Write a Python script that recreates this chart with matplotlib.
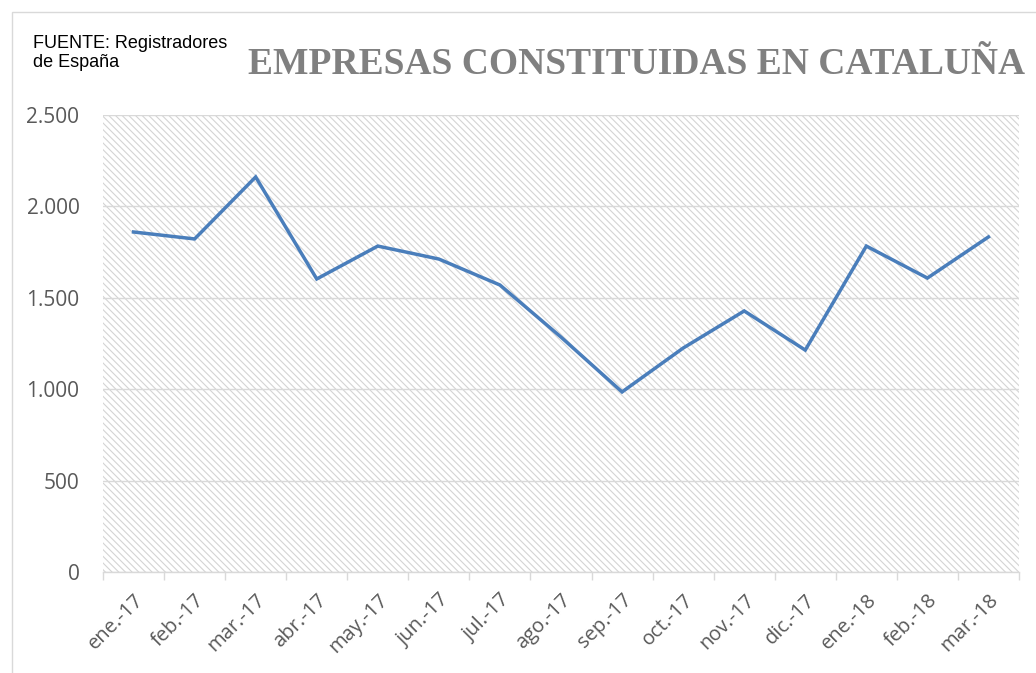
import numpy as np
import matplotlib.pyplot as plt
from matplotlib.patches import Rectangle

# data
months = ["ene.-17", "feb.-17", "mar.-17", "abr.-17", "may.-17", "jun.-17",
          "jul.-17", "ago.-17", "sep.-17", "oct.-17", "nov.-17", "dic.-17",
          "ene.-18", "feb.-18", "mar.-18"]
empresas = [1860, 1822, 2161, 1603, 1783, 1712, 1570, 1285, 985, 1225,
            1428, 1214, 1783, 1608, 1833]
yticks = [0, 500, 1000, 1500, 2000, 2500]
ytick_labels = ["0", "500", "1.000", "1.500", "2.000", "2.500"]

plt.rcParams['hatch.color'] = '#d4d4d4'
plt.rcParams['hatch.linewidth'] = 0.8

fig = plt.figure(figsize=(10.36, 6.73), dpi=100)
ax = fig.add_axes([103 / 1036, 1 - 572 / 673, 916 / 1036, 457 / 673])

# outer chart border
fig.patches.append(Rectangle((12 / 1036, -0.1), 1.2, (673 - 12) / 673 + 0.1,
                             transform=fig.transFigure, fill=False,
                             edgecolor='#d9d9d9', linewidth=1))

# hatched plot area
ax.add_patch(Rectangle((0, 0), 1, 1, transform=ax.transAxes, facecolor='white',
                       edgecolor='#d4d4d4', hatch='\\\\\\\\\\', linewidth=0, zorder=0))

x = np.arange(len(months))
ax.plot(x, empresas, color='#4a7ebb', linewidth=2.5, zorder=3, solid_joinstyle='miter')

ax.set_xlim(-0.5, len(months) - 0.5)
ax.set_ylim(0, 2500)
ax.set_yticks(yticks)
ax.set_yticklabels(ytick_labels)
ax.yaxis.grid(True, color='#d9d9d9', linewidth=1)
ax.set_axisbelow(True)

ax.set_xticks(x)
ax.set_xticklabels(months, rotation=45, ha='right', rotation_mode='anchor')
ax.set_xticks(np.arange(-0.5, len(months)), minor=True)
ax.tick_params(axis='x', which='major', length=0, pad=13, labelsize=14.5, labelcolor='#595959')
ax.tick_params(axis='x', which='minor', length=6, color='#d9d9d9', width=1)
ax.tick_params(axis='y', length=0, pad=17, labelsize=15, labelcolor='#595959')
for lab in ax.get_xticklabels() + ax.get_yticklabels():
    lab.set_family('Open Sans')

for s in ['top', 'right', 'left']:
    ax.spines[s].set_visible(False)
ax.spines['bottom'].set_color('#d9d9d9')
ax.spines['bottom'].set_linewidth(1)

fig.text(33 / 1036, 1 - 53 / 673, "FUENTE: Registradores\nde España", fontsize=13,
         family='Liberation Sans', va='center', ha='left', linespacing=1.15)
fig.text(248 / 1036, 1 - 64 / 673, "EMPRESAS CONSTITUIDAS EN CATALUÑA", fontsize=27,
         family='Liberation Serif', fontweight='bold', color='#808080', va='center', ha='left')

fig.savefig("out.png", dpi=100)
